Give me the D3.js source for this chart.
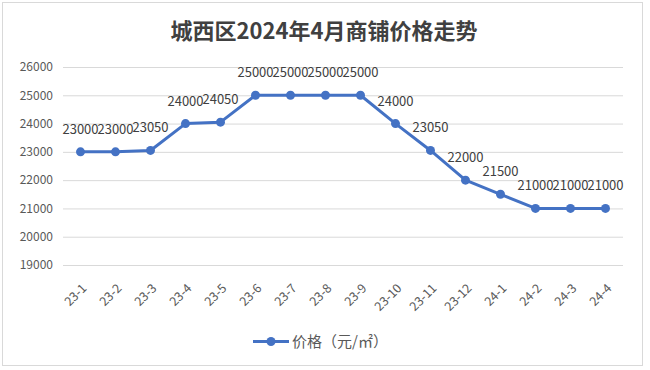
<!DOCTYPE html>
<html>
<head>
<meta charset="utf-8">
<script src="https://cdn.jsdelivr.net/npm/d3@7"></script>
<style>
  body { margin: 0; background: #fff; }
  svg { display: block; font-family: "Noto Sans CJK SC", "Microsoft YaHei", sans-serif; }
</style>
</head>
<body>
<script>
// chart data
const months = ['23-1', '23-2', '23-3', '23-4', '23-5', '23-6', '23-7', '23-8',
                '23-9', '23-10', '23-11', '23-12', '24-1', '24-2', '24-3', '24-4'];
const prices = [23000, 23000, 23050, 24000, 24050, 25000, 25000, 25000,
                25000, 24000, 23050, 22000, 21500, 21000, 21000, 21000];
const yTicks = [19000, 20000, 21000, 22000, 23000, 24000, 25000, 26000];
const titleText = '城西区2024年4月商铺价格走势';
const seriesName = '价格（元/㎡）';

// layout
const WIDTH = 650;
const HEIGHT = 370;
const PLOT_LEFT = 63;
const PLOT_RIGHT = 623;
const PLOT_TOP = 67;
const PLOT_BOT = 265;
const LINE_COLOR = '#4472C4';

const svg = d3.select('body')
  .append('svg')
    .attr('width', WIDTH)
    .attr('height', HEIGHT);

// outer border
svg.append('rect')
    .attr('x', 2.5)
    .attr('y', 2.5)
    .attr('width', 640)
    .attr('height', 363)
    .attr('fill', '#fff')
    .attr('stroke', '#d9d9d9');

// title
svg.append('text')
    .attr('x', 324)
    .attr('y', 39)
    .attr('text-anchor', 'middle')
    .attr('font-size', 22)
    .attr('font-weight', 'bold')
    .attr('fill', '#404040')
    .text(titleText);

// scales
const xScale = d3.scaleBand()
    .domain(months)
    .range([PLOT_LEFT, PLOT_RIGHT]);

const yScale = d3.scaleLinear()
    .domain([19000, 26000])
    .range([PLOT_BOT, PLOT_TOP]);

// y axis with gridlines
const yAxis = d3.axisLeft(yScale)
    .tickValues(yTicks)
    .tickSize(-(PLOT_RIGHT - PLOT_LEFT))
    .tickPadding(10)
    .tickFormat(d3.format('d'));

const yG = svg.append('g')
    .attr('transform', `translate(${PLOT_LEFT}, 0)`)
    .call(yAxis);
yG.select('.domain').remove();
yG.selectAll('line').attr('stroke', '#d9d9d9');
yG.selectAll('text')
    .attr('font-size', 12)
    .attr('fill', '#595959')
    .attr('font-family', '"Noto Sans CJK SC", sans-serif');

// x axis labels
const xAxis = d3.axisBottom(xScale)
    .tickSize(0)
    .tickPadding(0);

const xG = svg.append('g')
    .attr('transform', `translate(0, ${PLOT_BOT})`)
    .call(xAxis);
xG.select('.domain').remove();
xG.selectAll('text')
    .attr('font-size', 12.5)
    .attr('fill', '#595959')
    .attr('font-family', '"Noto Sans CJK SC", sans-serif')
    .attr('text-anchor', 'end')
    .attr('dy', 0)
    .attr('y', 0)
    .attr('transform', 'translate(7, 24) rotate(-45)');

// line
const cx = d => xScale(d) + xScale.bandwidth() / 2;
const line = d3.line()
    .x((d, i) => cx(months[i]))
    .y(d => yScale(d));

svg.append('path')
    .datum(prices)
    .attr('d', line)
    .attr('fill', 'none')
    .attr('stroke', LINE_COLOR)
    .attr('stroke-width', 3)
    .attr('stroke-linejoin', 'round');

svg.selectAll('.dot')
  .data(prices)
  .enter()
  .append('circle')
    .attr('class', 'dot')
    .attr('cx', (d, i) => cx(months[i]))
    .attr('cy', d => yScale(d))
    .attr('r', 4.5)
    .attr('fill', LINE_COLOR);

// data labels
svg.selectAll('.label')
  .data(prices)
  .enter()
  .append('text')
    .attr('class', 'label')
    .attr('x', (d, i) => cx(months[i]))
    .attr('y', d => yScale(d) - 18)
    .attr('text-anchor', 'middle')
    .attr('font-size', 13)
    .attr('fill', '#404040')
    .text(d => d);

// legend
const legend = svg.append('g')
    .attr('transform', 'translate(253, 341.5)');
legend.append('line')
    .attr('x1', 0)
    .attr('x2', 36)
    .attr('stroke', LINE_COLOR)
    .attr('stroke-width', 3);
legend.append('circle')
    .attr('cx', 18)
    .attr('r', 4.5)
    .attr('fill', LINE_COLOR);
legend.append('text')
    .attr('x', 39)
    .attr('y', 5.5)
    .attr('font-size', 15)
    .attr('fill', '#595959')
    .text(seriesName);
</script>
</body>
</html>
